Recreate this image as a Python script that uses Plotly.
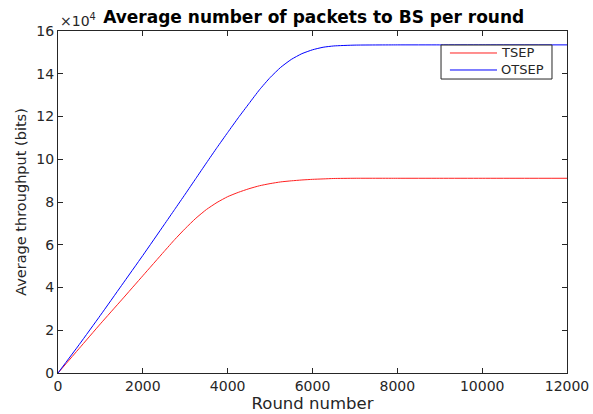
import plotly.graph_objects as go

rounds = [0, 500, 1000, 1500, 2000, 2500, 2750, 3000, 3250, 3500, 3750, 4000,
          4250, 4500, 4750, 5000, 5250, 5500, 5750, 6000, 6250, 6500, 7000,
          8000, 9000, 10000, 11000, 12000]
tsep = [0, 1.15, 2.3, 3.42, 4.55, 5.68, 6.24, 6.76, 7.24, 7.65, 7.98, 8.25,
        8.45, 8.62, 8.76, 8.86, 8.94, 8.99, 9.03, 9.06, 9.08, 9.1, 9.11,
        9.11, 9.11, 9.11, 9.11, 9.11]
otsep = [0, 1.33, 2.7, 4.1, 5.5, 6.93, 7.65, 8.37, 9.1, 9.83, 10.55, 11.25,
         11.94, 12.6, 13.25, 13.82, 14.3, 14.67, 14.94, 15.12, 15.24, 15.3, 15.34,
         15.35, 15.35, 15.35, 15.35, 15.35]
series_names = ["TSEP", "OTSEP"]
x_ticks = [0, 2000, 4000, 6000, 8000, 10000, 12000]
x_tick_text = ["0", "2000", "4000", "6000", "8000", "10000", "12000"]
y_ticks = [0, 2, 4, 6, 8, 10, 12, 14, 16]
y_tick_text = ["0", "2", "4", "6", "8", "10", "12", "14", "16"]

font = "DejaVu Sans"
tc = "#262626"
colors = ["#ff2020", "#0000ff"]

fig = go.Figure()
for name, ys, col in zip(series_names, [tsep, otsep], colors):
    fig.add_trace(go.Scatter(x=rounds, y=ys, mode="lines", name=name,
                             showlegend=False,
                             line=dict(color=col, width=1, shape="spline", smoothing=0.5)))

axis_common = dict(showgrid=False, zeroline=False, showline=True, linecolor=tc,
                   linewidth=1, mirror="ticks", ticks="inside", ticklen=5,
                   tickcolor=tc, automargin=False,
                   tickfont=dict(family=font, size=14, color=tc))

fig.update_layout(
    width=593, height=414,
    margin=dict(l=58, r=26, t=31, b=41),
    paper_bgcolor="white", plot_bgcolor="white",
    title=dict(text="<b>Average number of packets to BS per round</b>",
               x=0.529, xanchor="center", y=0.958, yanchor="middle",
               font=dict(family=font, size=17, color="black")),
    xaxis=dict(range=[0, 12000], tickvals=x_ticks, ticktext=x_tick_text,
               title=dict(text="Round number", standoff=3,
                          font=dict(family=font, size=16.5, color=tc)),
               **axis_common),
    yaxis=dict(range=[0, 16], tickvals=y_ticks, ticktext=y_tick_text,
               title=dict(text="Average throughput (bits)", standoff=6,
                          font=dict(family=font, size=14.5, color=tc)),
               **axis_common),
    showlegend=False,
)

# legend box drawn in the plot's paper coordinates
fig.add_shape(type="rect", xref="paper", yref="paper",
              x0=0.7525, x1=0.9705, y0=0.8596, y1=0.959,
              line=dict(color=tc, width=1), fillcolor="white", layer="above")
legend_rows = [0.9357, 0.886]
for name, col, yy in zip(series_names, colors, legend_rows):
    fig.add_shape(type="line", xref="paper", yref="paper",
                  x0=0.770, x1=0.8625, y0=yy, y1=yy,
                  line=dict(color=col, width=1), layer="above")
    fig.add_annotation(x=0.8664, y=yy, xref="paper", yref="paper", text=name,
                       showarrow=False, xanchor="left", yanchor="middle",
                       font=dict(family=font, size=13, color=tc))

fig.add_annotation(x=0, y=1.0, xref="paper", yref="paper",
                   text="×10<sup>4</sup>", showarrow=False,
                   xanchor="left", yanchor="bottom", yshift=0,
                   font=dict(family=font, size=14, color=tc))

fig.write_html("out.html", config={"displayModeBar": False},
               post_script="document.body.style.margin='0';document.body.style.overflow='hidden';")
